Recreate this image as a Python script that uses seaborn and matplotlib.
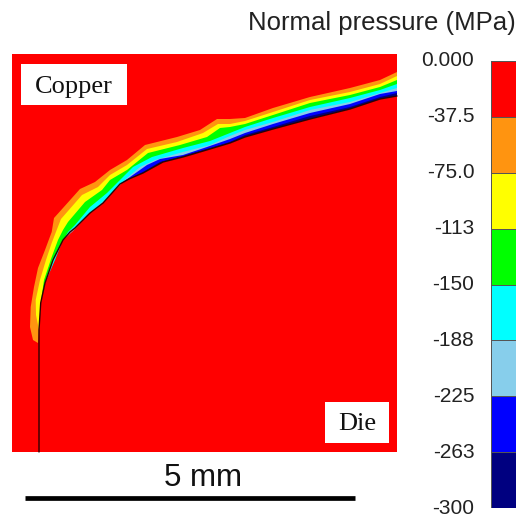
import matplotlib
matplotlib.use("Agg")
import matplotlib.pyplot as plt
from matplotlib.colors import ListedColormap
from matplotlib.patches import Rectangle
import numpy as np
import seaborn as sns

# contour levels and colours, top of the bar first
levels = ["0.000", "-37.5", "-75.0", "-113", "-150", "-188", "-225", "-263", "-300"]
cell_values = [-18.75, -56.25, -93.75, -131.25, -168.75, -206.25, -243.75, -281.25]
band_colors = ["#ff0000", "#ff9410", "#ffff00", "#00ff00", "#00ffff", "#87ceeb", "#0000ff", "#000080"]

# contour boundaries, in picture units (65.9 units = 1 mm)
die_x = [39, 39, 40.7, 45, 53, 63, 70, 75, 90, 103, 120, 129, 143, 163, 183, 210, 230, 245, 273, 310, 350, 380, 397]
die_y = [452, 330, 303, 283, 260, 240, 232, 228, 213, 203, 184, 179, 173, 162, 157, 149, 143, 137, 129, 119, 109, 99, 96]

orange_x = [38, 33, 30, 30.7, 34, 38, 45, 51.7, 54, 63, 80, 95, 110, 127, 145, 177, 200, 217, 230, 245, 273, 310, 350, 380, 397]
orange_y = [343, 340, 327, 307, 287, 268, 250, 232, 218, 208, 189, 182, 170, 160, 145, 137, 130, 119, 119, 118, 108, 97, 88, 80, 72]

yellow_x = [39, 36, 35.7, 40, 46, 51.7, 56.7, 61, 82, 98, 110, 127, 147, 177, 203, 218, 230, 245, 273, 310, 350, 380, 397]
yellow_y = [330, 315, 300, 280, 260, 243, 230, 219, 195, 187, 175, 165, 149, 142, 133, 124, 124, 121, 112, 100, 92, 84, 76]

green_x = [40, 40.7, 44, 51.7, 58, 63, 68, 85, 102, 110, 127, 148, 180, 207, 220, 230, 245, 273, 310, 350, 380, 397]
green_y = [315, 303, 280, 257, 240, 230, 222, 202, 190, 180, 170, 153, 145, 137, 128, 127, 124, 115, 103, 95, 87, 80]

cyan_x = [45, 55, 61.7, 68, 75, 90, 107, 120, 133, 152, 183, 210, 230, 245, 273, 310, 350, 380, 397]
cyan_y = [283, 260, 243, 232, 225, 207, 193, 180, 167, 157, 148, 141, 133, 127, 118, 107, 98, 90, 84]

sky_x = [63, 73, 90, 107, 120, 127, 140, 155, 183, 210, 230, 245, 273, 310, 350, 380, 397]
sky_y = [240, 231, 213, 198, 185, 178, 167, 160, 152, 145, 136, 130, 122, 110, 102, 93, 88]

blue_x = [120, 130, 147, 160, 183, 207, 230, 245, 273, 310, 350, 380, 397]
blue_y = [184, 177, 165, 159, 155, 147, 139, 133, 124, 113, 104, 94, 91]

navy_x = [129, 143, 160, 183, 210, 230, 245, 273, 310, 350, 380, 397]
navy_y = [179, 172, 162, 156, 148, 142, 135, 127, 116, 107, 97, 93]

boundaries = [
    (orange_x, orange_y, band_colors[1]),
    (yellow_x, yellow_y, band_colors[2]),
    (green_x, green_y, band_colors[3]),
    (cyan_x, cyan_y, band_colors[4]),
    (sky_x, sky_y, band_colors[5]),
    (blue_x, blue_y, band_colors[6]),
    (navy_x, navy_y, band_colors[7]),
]

sns.set_theme(style="white")
plt.rcParams["font.family"] = ["Liberation Sans", "DejaVu Sans"]

fig = plt.figure(figsize=(5.17, 5.15), dpi=100)

# full figure axes, holds the map, the labels and the scale bar
ax = fig.add_axes([0, 0, 1, 1])
ax.set_xlim(0, 517)
ax.set_ylim(515, 0)
ax.axis("off")

panel = Rectangle((12, 54), 385, 398, facecolor=band_colors[0], edgecolor="none", zorder=1)
ax.add_patch(panel)

# each band runs along its boundary and back down the die to where it starts
dx = np.array(die_x, dtype=float)
dy = np.array(die_y, dtype=float)
for bx, by, color in boundaries:
    keep = dy < by[0]
    px = np.concatenate([bx, dx[keep][::-1]])
    py = np.concatenate([by, dy[keep][::-1]])
    ax.fill(px, py, color=color, lw=0, zorder=2)

sns.lineplot(x=die_x, y=die_y, sort=False, estimator=None, color="#300000", lw=1.0, ax=ax, zorder=3)

for x0, y0, w, h, label in [(21, 64, 106, 41, "Copper"), (325, 402, 64, 41, "Die")]:
    ax.add_patch(Rectangle((x0, y0), w, h, facecolor="white", edgecolor="none", zorder=4))
    ax.text(x0 + w / 2, y0 + h / 2 + 2, label, family="Liberation Serif", fontsize=19, color="#111111",
            ha="center", va="center", zorder=5)

# scale bar
sns.lineplot(x=[25, 355], y=[497.5, 497.5], sort=False, estimator=None, color="black", lw=3.4,
             solid_capstyle="butt", ax=ax, zorder=3)
ax.text(203.5, 478, "5 mm", fontsize=22.5, color="#111111", ha="center", va="center")

ax.text(516, 23, "Normal pressure (MPa)", fontsize=18.5, color="#222222", ha="right", va="center")

# colour bar
cax = fig.add_axes([491 / 517, 1 - 508 / 515, 25 / 517, 447 / 515])
sns.heatmap(np.array(cell_values).reshape(-1, 1), cmap=ListedColormap(band_colors[::-1]), vmin=-300, vmax=0,
            cbar=False, linewidths=0.5, linecolor="#555555", xticklabels=False, ax=cax)
cax.set_yticks(np.arange(len(levels)))
cax.set_yticklabels(levels, rotation=0, fontsize=15, color="#222222")
cax.tick_params(axis="y", left=False, length=0, pad=12)

fig.savefig("out.png", dpi=100)
